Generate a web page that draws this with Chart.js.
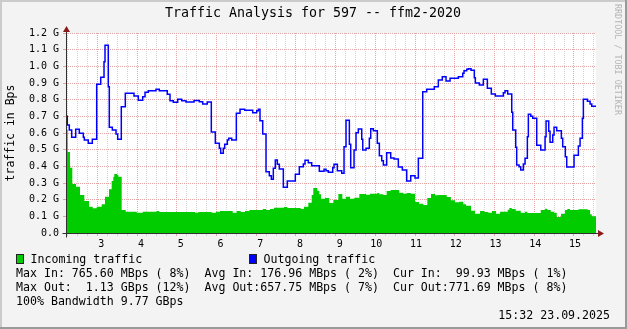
<!DOCTYPE html>
<html>
<head>
<meta charset="utf-8">
<script src="https://cdn.jsdelivr.net/npm/chart.js@4/dist/chart.umd.min.js"></script>
<style>
  html, body { margin: 0; padding: 0; background: #f3f3f3; }
  #wrap { width: 627px; height: 329px; position: relative; }
</style>
</head>
<body>
<div id="wrap"><canvas id="graph"></canvas></div>
<script>
// Datos (x en unidades del eje, valores en G)
const outX = [2.212, 2.245, 2.295, 2.355, 2.456, 2.547, 2.648, 2.673, 2.773, 2.874, 2.985, 3.086, 3.169, 3.194, 3.277, 3.302, 3.378, 3.471, 3.513, 3.604,
  3.705, 3.924, 4.032, 4.143, 4.201, 4.284, 4.478, 4.561, 4.762, 4.830, 4.913, 5.024, 5.125, 5.233, 5.435, 5.568, 5.653, 5.769, 5.870, 5.971,
  6.072, 6.106, 6.172, 6.207, 6.273, 6.308, 6.383, 6.500, 6.593, 6.711, 6.912, 7.013, 7.054, 7.096, 7.164, 7.247, 7.330, 7.381, 7.431, 7.481,
  7.532, 7.582, 7.683, 7.783, 7.985, 8.086, 8.186, 8.229, 8.312, 8.397, 8.589, 8.708, 8.758, 8.816, 8.926, 8.959, 9.043, 9.153, 9.211, 9.261,
  9.345, 9.379, 9.463, 9.513, 9.571, 9.657, 9.682, 9.765, 9.848, 9.883, 9.949, 10.049, 10.100, 10.160, 10.201, 10.285, 10.386, 10.470, 10.578, 10.679,
  10.789, 10.890, 10.998, 11.082, 11.192, 11.293, 11.484, 11.585, 11.685, 11.779, 11.880, 12.089, 12.200, 12.232, 12.300, 12.340, 12.408, 12.491, 12.517, 12.617,
  12.718, 12.819, 12.919, 13.020, 13.222, 13.264, 13.331, 13.433, 13.458, 13.533, 13.558, 13.617, 13.659, 13.725, 13.768, 13.826, 13.851, 13.911, 13.962, 14.062,
  14.163, 14.272, 14.297, 14.364, 14.397, 14.465, 14.498, 14.565, 14.682, 14.716, 14.782, 14.817, 15.001, 15.110, 15.153, 15.211, 15.236, 15.337, 15.405, 15.447,
  15.554];
const outVal = [0.700, 0.648, 0.618, 0.574, 0.622, 0.598, 0.574, 0.558, 0.538, 0.562, 0.892, 0.934, 1.028, 1.126, 0.878, 0.634, 0.618, 0.594, 0.562, 0.758,
  0.838, 0.822, 0.796, 0.818, 0.844, 0.854, 0.862, 0.854, 0.832, 0.794, 0.784, 0.802, 0.794, 0.786, 0.795, 0.788, 0.774, 0.786, 0.606, 0.538,
  0.508, 0.478, 0.508, 0.532, 0.558, 0.568, 0.558, 0.718, 0.742, 0.736, 0.722, 0.734, 0.742, 0.674, 0.594, 0.368, 0.344, 0.322, 0.388, 0.438,
  0.412, 0.384, 0.274, 0.312, 0.352, 0.398, 0.414, 0.436, 0.422, 0.404, 0.370, 0.382, 0.374, 0.364, 0.392, 0.412, 0.374, 0.358, 0.518, 0.676,
  0.532, 0.392, 0.498, 0.602, 0.624, 0.562, 0.498, 0.508, 0.568, 0.626, 0.614, 0.538, 0.464, 0.434, 0.408, 0.482, 0.450, 0.444, 0.396, 0.378,
  0.312, 0.344, 0.330, 0.448, 0.848, 0.862, 0.878, 0.918, 0.938, 0.912, 0.928, 0.938, 0.958, 0.974, 0.982, 0.986, 0.976, 0.932, 0.900, 0.888,
  0.922, 0.868, 0.834, 0.822, 0.842, 0.854, 0.834, 0.724, 0.618, 0.514, 0.408, 0.398, 0.378, 0.414, 0.448, 0.578, 0.712, 0.700, 0.688, 0.526,
  0.498, 0.578, 0.672, 0.610, 0.544, 0.588, 0.634, 0.614, 0.568, 0.518, 0.458, 0.396, 0.466, 0.522, 0.568, 0.688, 0.802, 0.790, 0.774, 0.760,
  0.760];

const inX = [2.212, 2.255, 2.313, 2.371, 2.464, 2.564, 2.673, 2.791, 2.884, 2.985, 3.111, 3.194, 3.295, 3.362, 3.403, 3.428, 3.504, 3.529, 3.614, 3.715,
  3.992, 4.143, 4.495, 4.561, 5.460, 5.543, 5.879, 5.988, 6.089, 6.408, 6.509, 6.610, 6.718, 6.827, 7.164, 7.247, 7.348, 7.449, 7.700, 7.783,
  8.120, 8.204, 8.312, 8.397, 8.438, 8.539, 8.589, 8.632, 8.733, 8.842, 8.942, 9.068, 9.169, 9.261, 9.362, 9.471, 9.596, 9.765, 9.866, 10.049,
  10.100, 10.201, 10.285, 10.386, 10.601, 10.704, 10.789, 10.890, 10.998, 11.099, 11.207, 11.308, 11.401, 11.502, 11.585, 11.796, 11.900, 12.005, 12.114, 12.215,
  12.283, 12.408, 12.509, 12.635, 12.744, 12.844, 12.937, 13.038, 13.139, 13.331, 13.373, 13.433, 13.533, 13.659, 13.768, 13.826, 14.163, 14.272, 14.330, 14.415,
  14.498, 14.565, 14.674, 14.775, 14.833, 14.901, 15.110, 15.346, 15.405, 15.447, 15.554];
const inVal = [0.618, 0.486, 0.392, 0.294, 0.278, 0.228, 0.192, 0.158, 0.148, 0.158, 0.172, 0.218, 0.262, 0.312, 0.338, 0.354, 0.348, 0.338, 0.138, 0.128,
  0.122, 0.128, 0.132, 0.126, 0.122, 0.126, 0.122, 0.128, 0.132, 0.122, 0.132, 0.126, 0.132, 0.138, 0.144, 0.138, 0.144, 0.152, 0.156, 0.150,
  0.144, 0.158, 0.182, 0.228, 0.270, 0.254, 0.232, 0.206, 0.210, 0.180, 0.198, 0.234, 0.206, 0.218, 0.206, 0.212, 0.234, 0.230, 0.236, 0.240,
  0.232, 0.228, 0.252, 0.258, 0.242, 0.236, 0.240, 0.236, 0.186, 0.176, 0.168, 0.210, 0.234, 0.226, 0.228, 0.216, 0.196, 0.184, 0.188, 0.172,
  0.164, 0.134, 0.116, 0.132, 0.126, 0.122, 0.132, 0.116, 0.128, 0.140, 0.150, 0.144, 0.134, 0.122, 0.128, 0.120, 0.138, 0.146, 0.138, 0.128,
  0.122, 0.096, 0.116, 0.138, 0.144, 0.138, 0.142, 0.138, 0.112, 0.100, 0.100];

const xTickLabels = [' 3', ' 4', ' 5', ' 6', ' 7', ' 8', ' 9', '10', '11', '12', '13', '14', '15'];
const yTickLabels = ['0.0', '0.1 G', '0.2 G', '0.3 G', '0.4 G', '0.5 G', '0.6 G', '0.7 G', '0.8 G', '0.9 G', '1.0 G', '1.1 G', '1.2 G'];

const titulo = 'Traffic Analysis for 597 -- ffm2-2020';
const lineasLeyenda = [
  'Max In: 765.60 MBps ( 8%)  Avg In: 176.96 MBps ( 2%)  Cur In:  99.93 MBps ( 1%)',
  'Max Out:  1.13 GBps (12%)  Avg Out:657.75 MBps ( 7%)  Cur Out:771.69 MBps ( 8%)',
  '100% Bandwidth 9.77 GBps'
];
const fecha = '15:32 23.09.2025';

const MONO = "'DejaVu Sans Mono', monospace";
const rosa = '#e2a4a4';
const gris = '#d2d2d2';

function esEntero(v) { return Math.abs(v - Math.round(v)) < 1e-6; }

// Fondo, ejes, flechas y textos estilo rrdtool
const decor = {
  id: 'decor',
  beforeDraw(chart) {
    const c = chart.ctx, a = chart.chartArea, w = chart.width, h = chart.height;
    c.save();
    c.fillStyle = '#f3f3f3';
    c.fillRect(0, 0, w, h);
    c.fillStyle = '#cbcbcb';
    c.fillRect(0, 0, w, 2);
    c.fillRect(0, 0, 2, h);
    c.fillStyle = '#9a9a9a';
    c.fillRect(0, h - 2, w, 2);
    c.fillRect(w - 2, 0, 2, h);
    c.fillStyle = '#ffffff';
    c.fillRect(a.left, a.top, a.right - a.left, a.bottom - a.top);
    c.restore();
  },
  afterDatasetsDraw(chart) {
    const c = chart.ctx, a = chart.chartArea;
    const x0 = Math.round(a.left) + 0.5, y0 = Math.round(a.bottom) + 0.5;
    c.save();
    c.strokeStyle = '#303030';
    c.lineWidth = 1;
    c.beginPath();
    c.moveTo(x0 - 4, y0); c.lineTo(a.right + 4, y0);
    c.moveTo(x0, y0 + 4); c.lineTo(x0, a.top - 4);
    c.stroke();
    c.fillStyle = '#8b1a1a';
    c.beginPath();
    c.moveTo(a.right + 2, y0 - 3.5); c.lineTo(a.right + 8, y0); c.lineTo(a.right + 2, y0 + 3.5);
    c.closePath(); c.fill();
    c.beginPath();
    c.moveTo(x0 - 3.5, a.top - 1); c.lineTo(x0, a.top - 7); c.lineTo(x0 + 3.5, a.top - 1);
    c.closePath(); c.fill();
    c.restore();
  },
  afterDraw(chart) {
    const c = chart.ctx;
    c.save();
    c.fillStyle = '#000';
    c.textBaseline = 'middle';
    c.font = '13.3px ' + MONO;
    c.textAlign = 'center';
    c.fillText(titulo, 313, 13.5);

    c.font = '11.6px ' + MONO;
    c.textAlign = 'left';
    // cuadros de la leyenda
    c.fillStyle = '#00cc00';
    c.fillRect(16, 254, 8, 10);
    c.fillStyle = '#0000ff';
    c.fillRect(249, 254, 8, 10);
    c.strokeStyle = '#222';
    c.lineWidth = 1;
    c.strokeRect(16.5, 254.5, 7, 9);
    c.strokeRect(249.5, 254.5, 7, 9);
    c.fillStyle = '#000';
    c.fillText('Incoming traffic', 30.5, 259.5);
    c.fillText('Outgoing traffic', 263.5, 259.5);
    lineasLeyenda.forEach((t, i) => c.fillText(t, 16, 273.5 + i * 14));
    c.textAlign = 'right';
    c.fillText(fecha, 610, 315.5);

    // marca de agua vertical
    c.translate(617.5, 4);
    c.rotate(Math.PI / 2);
    c.font = '8.4px ' + MONO;
    c.fillStyle = '#b4b4b4';
    c.textAlign = 'left';
    c.fillText('RRDTOOL / TOBI OETIKER', 0, 0);
    c.restore();
  }
};

const ctx = document.getElementById('graph');

new Chart(ctx, {
  type: 'line',
  data: {
    datasets: [
      {
        label: 'Outgoing traffic',
        data: outX.map((x, i) => ({ x: x, y: outVal[i] })),
        borderColor: '#0000ff',
        borderWidth: 1.5,
        stepped: true,
        pointRadius: 0,
        fill: false,
        order: 1
      },
      {
        label: 'Incoming traffic',
        data: inX.map((x, i) => ({ x: x, y: inVal[i] })),
        borderColor: 'rgba(0,0,0,0)',
        borderWidth: 0,
        backgroundColor: '#00cc00',
        stepped: true,
        pointRadius: 0,
        fill: 'origin',
        order: 2
      }
    ]
  },
  options: {
    responsive: true,
    maintainAspectRatio: false,
    animation: false,
    devicePixelRatio: 1,
    layout: { padding: { left: 0, right: 31, top: 33, bottom: 76 } },
    plugins: {
      legend: { display: false },
      title: { display: false },
      tooltip: { enabled: false }
    },
    scales: {
      x: {
        type: 'linear',
        min: 2.212,
        max: 15.554,
        afterBuildTicks: function (scale) {
          const t = [];
          for (let k = 9; k <= 62; k++) t.push({ value: k * 0.25 });
          scale.ticks = t;
        },
        afterFit: function (scale) { scale.height = 20; },
        border: { display: false, dash: [1, 1] },
        grid: {
          color: (c) => (c.tick && esEntero(c.tick.value)) ? rosa : gris,
          lineWidth: 1,
          tickLength: 3,
          tickBorderDash: []
        },
        ticks: {
          autoSkip: false,
          maxRotation: 0,
          padding: 2,
          labelOffset: 1,
          color: '#000',
          font: { family: MONO, size: 10 },
          callback: function (v) {
            const r = Math.round(v);
            if (esEntero(v) && r >= 3 && r <= 15) return xTickLabels[r - 3];
            return '';
          }
        }
      },
      y: {
        min: 0,
        max: 1.2,
        afterFit: function (scale) { scale.width = 66; },
        border: { display: false, dash: [1, 1] },
        grid: {
          color: rosa,
          lineWidth: 1,
          tickLength: 3,
          tickBorderDash: []
        },
        ticks: {
          stepSize: 0.1,
          padding: 4,
          color: '#000',
          font: { family: MONO, size: 10 },
          callback: function (v) { return yTickLabels[Math.round(v * 10)]; }
        },
        title: {
          display: true,
          text: 'traffic in Bps',
          color: '#000',
          font: { family: MONO, size: 11.5 },
          padding: { top: 4, bottom: 0 }
        }
      }
    }
  },
  plugins: [decor]
});
</script>
</body>
</html>
